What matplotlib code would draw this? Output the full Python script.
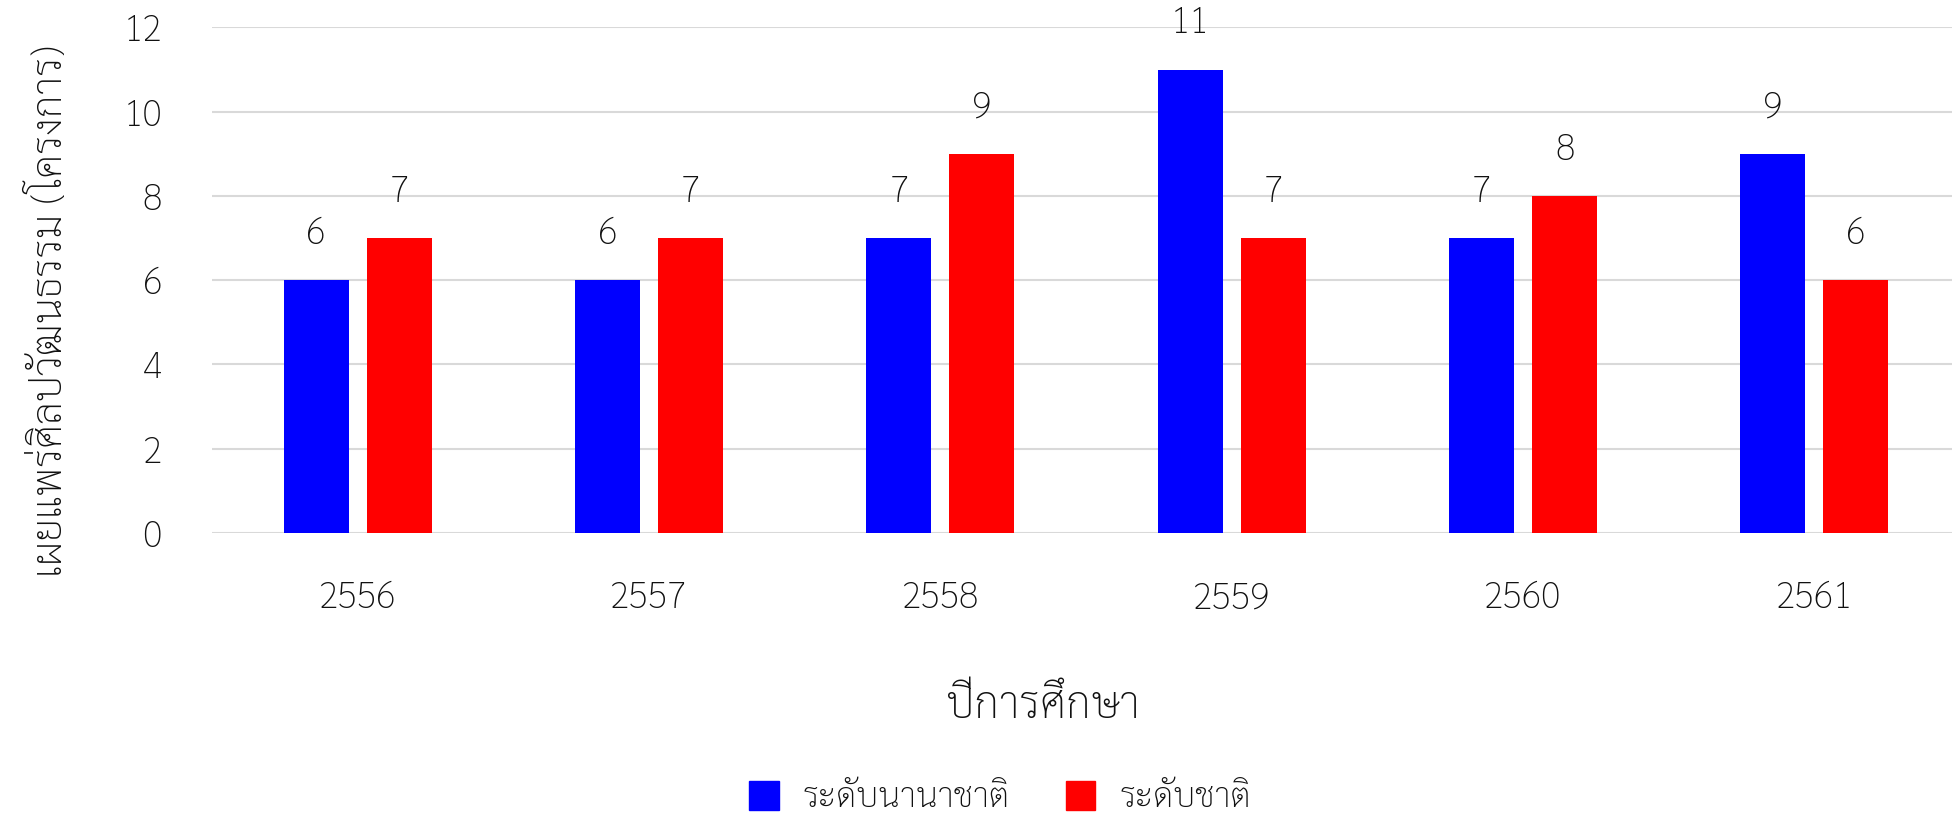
import matplotlib
matplotlib.use("Agg")
import matplotlib.pyplot as plt
import numpy as np
from matplotlib.patches import Patch

plt.rcParams['font.family'] = ['Sarabun', 'Noto Sans Thai Looped', 'DejaVu Sans']

years = ["2556", "2557", "2558", "2559", "2560", "2561"]
international = [6, 6, 7, 11, 7, 9]
national = [7, 7, 9, 7, 8, 6]
series_names = ["ระดับนานาชาติ", "ระดับชาติ"]
ylabel = "เผยแพร่ศิลปวัฒนธรรม (โครงการ)"
xlabel = "ปีการศึกษา"

W, H = 1952, 821
fig = plt.figure(figsize=(W / 100, H / 100), dpi=100)
left, right, top, bottom = 212, 1960, 27.4, 533
ax = fig.add_axes([left / W, 1 - bottom / H, (right - left) / W, (bottom - top) / H])

TXT = "#111111"
WT = "light"
x = np.arange(len(years))
bw = 0.223
off = 0.1425
b1 = ax.bar(x - off, international, bw, color="#0000FF", zorder=3)
b2 = ax.bar(x + off, national, bw, color="#FF0000", zorder=3)

for bars in (b1, b2):
    for r in bars:
        ax.annotate(f"{int(r.get_height())}", (r.get_x() + r.get_width() / 2, r.get_height()),
                    xytext=(0, 33), textcoords="offset points", ha="center", va="center",
                    fontsize=26, color=TXT, fontweight=WT)

ax.set_xlim(-0.5, len(years) - 0.5)
ax.set_ylim(0, 12)
ax.set_yticks(range(0, 13, 2))
ax.yaxis.grid(True, color="#d9d9d9", linewidth=1.5, zorder=0)
ax.set_axisbelow(True)
for s in ax.spines.values():
    s.set_visible(False)
ax.tick_params(axis="both", length=0, labelsize=26, colors=TXT)
ax.tick_params(axis="y", pad=36)
ax.tick_params(axis="x", pad=34)
ax.set_xticks(x)
ax.set_xticklabels(years)
for lab in ax.get_xticklabels() + ax.get_yticklabels():
    lab.set_fontweight(WT)

fig.text(50 / W, 1 - 311 / H, ylabel, rotation=90, ha="center", va="center", fontsize=29.5,
         color=TXT, fontweight=WT)
fig.text(1043 / W, 1 - 706 / H, xlabel, ha="center", va="center", fontsize=32,
         color=TXT, fontweight=WT)

handles = [Patch(color="#0000FF"), Patch(color="#FF0000")]
leg = fig.legend(handles, series_names, loc="center", bbox_to_anchor=(1000 / W, 1 - 798 / H),
                 ncol=2, frameon=False, handlelength=0.85, handleheight=0.95,
                 handletextpad=0.7, columnspacing=1.6, prop={"weight": WT, "size": 25})
for t in leg.get_texts():
    t.set_color(TXT)

fig.savefig("out.png", dpi=100)
